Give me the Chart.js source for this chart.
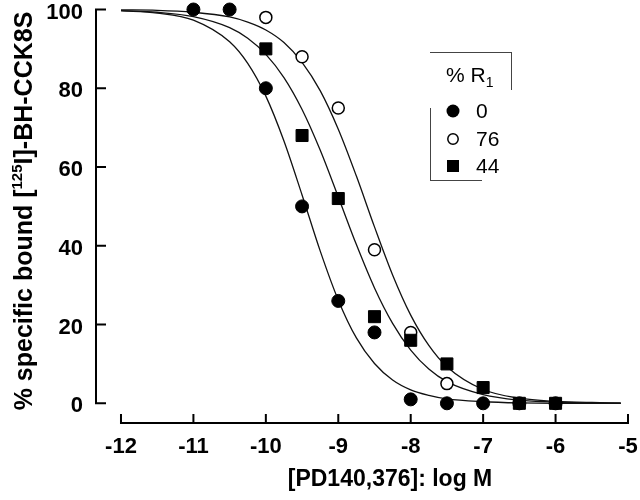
<!DOCTYPE html>
<html>
<head>
<meta charset="utf-8">
<script src="https://cdn.jsdelivr.net/npm/chart.js@4.4.0/dist/chart.umd.min.js"></script>
<style>
  html, body { margin: 0; padding: 0; background: #fff; }
  #caja { width: 640px; height: 500px; }
</style>
</head>
<body>
<div id="caja"><canvas id="grafico" width="640" height="500"></canvas></div>
<script>
/* Datos: log M vs % unido */
var dosis0 = [-11, -10.5, -10, -9.5, -9, -8.5, -8, -7.5, -7, -6.5, -6];
var unido0 = [100, 100, 80, 50, 26, 18, 1, 0, 0, 0, 0];
var dosis76 = [-10, -9.5, -9, -8.5, -8, -7.5];
var unido76 = [98, 88, 75, 39, 18, 5];
var dosis44 = [-10, -9.5, -9, -8.5, -8, -7.5, -7, -6.5, -6];
var unido44 = [90, 68, 52, 22, 16, 10, 4, 0, 0];

/* Curvas ajustadas (valores leídos sobre las líneas) */
var curvaX = [-12, -11.5, -11, -10.5, -10.25, -10, -9.75, -9.5, -9.25, -9, -8.75, -8.5, -8.25, -8, -7.75, -7.5, -7, -6.5, -6, -5.5, -5.1];
var curva0 = [99.7, 99.1, 97.3, 91.8, 86.3, 78.0, 66.6, 52.9, 38.7, 26.2, 16.6, 10.1, 5.9, 3.4, 2.0, 1.1, 0.4, 0.1, 0, 0, 0];
var curva44 = [99.7, 99.3, 98.2, 95.4, 92.7, 88.6, 82.7, 74.6, 64.3, 52.4, 40.3, 29.3, 20.3, 13.5, 8.7, 5.5, 2.2, 0.8, 0.3, 0.1, 0];
var curva76 = [99.9, 99.8, 99.3, 98.1, 96.8, 94.8, 91.6, 86.6, 79.4, 69.6, 57.7, 44.8, 32.6, 22.4, 14.7, 9.3, 3.5, 1.3, 0.5, 0.2, 0.1];

var ticksX = [-12, -11, -10, -9, -8, -7, -6, -5];
var ticksY = [0, 20, 40, 60, 80, 100];
var tituloX = '[PD140,376]: log M';
var tituloY = ['% specific bound [', '125', 'I]-BH-CCK8S'];
var leyendaTitulo = ['% R', '1'];
var leyendaEtiquetas = ['0', '76', '44'];

var fuente = '"Liberation Sans", Arial, Helvetica, sans-serif';

function pares(xs, ys) {
  return xs.map(function(x, i) { return { x: x, y: ys[i] }; });
}

function curva(ys) {
  return {
    data: pares(curvaX, ys),
    showLine: true,
    pointRadius: 0,
    borderColor: '#111',
    borderWidth: 1.3,
    cubicInterpolationMode: 'monotone',
    fill: false,
    clip: false,
    order: 10
  };
}

/* Ejes separados, marcas hacia dentro, títulos y leyenda a mano */
var ejes = {
  id: 'ejes',
  beforeDatasetsDraw: function(chart) {
    var ctx = chart.ctx;
    var sx = chart.scales.x;
    var sy = chart.scales.y;
    var izq = chart.chartArea.left;
    var abajo = chart.chartArea.bottom;
    ctx.save();
    ctx.strokeStyle = '#000';
    ctx.lineWidth = 2;
    ctx.lineCap = 'square';

    // eje Y
    ctx.beginPath();
    ctx.moveTo(izq, sy.getPixelForValue(0));
    ctx.lineTo(izq, sy.getPixelForValue(100));
    ticksY.forEach(function(v) {
      var py = sy.getPixelForValue(v);
      ctx.moveTo(izq, py);
      ctx.lineTo(izq + 9, py);
    });
    // eje X
    ctx.moveTo(sx.getPixelForValue(ticksX[0]), abajo);
    ctx.lineTo(sx.getPixelForValue(ticksX[ticksX.length - 1]), abajo);
    ticksX.forEach(function(v) {
      var px = sx.getPixelForValue(v);
      ctx.moveTo(px, abajo);
      ctx.lineTo(px, abajo - 8);
    });
    ctx.stroke();

    ctx.fillStyle = '#000';
    ctx.font = 'bold 22px ' + fuente;
    ctx.textAlign = 'right';
    ctx.textBaseline = 'middle';
    ticksY.forEach(function(v) {
      ctx.fillText(String(v), izq - 13, sy.getPixelForValue(v) + 3);
    });
    ctx.textAlign = 'center';
    ticksX.forEach(function(v) {
      ctx.fillText(String(v), sx.getPixelForValue(v), abajo + 24);
    });

    ctx.font = 'bold 23px ' + fuente;
    ctx.fillText(tituloX, 390, abajo + 57);

    // título Y con superíndice
    ctx.save();
    ctx.translate(32, 211);
    ctx.rotate(-Math.PI / 2);
    ctx.textAlign = 'left';
    ctx.textBaseline = 'alphabetic';
    var fGrande = 'bold 25px ' + fuente;
    var fChica = 'bold 15px ' + fuente;
    ctx.font = fGrande;
    var a = ctx.measureText(tituloY[0]).width;
    var c = ctx.measureText(tituloY[2]).width;
    ctx.font = fChica;
    var b = ctx.measureText(tituloY[1]).width;
    var total = a + b + c;
    var x0 = -total / 2;
    ctx.font = fGrande;
    ctx.fillText(tituloY[0], x0, 0);
    ctx.font = fChica;
    ctx.fillText(tituloY[1], x0 + a, -10);
    ctx.font = fGrande;
    ctx.fillText(tituloY[2], x0 + a + b, 0);
    ctx.restore();

    ctx.restore();
  },
  afterDraw: function(chart) {
    var ctx = chart.ctx;
    ctx.save();
    // marco de la leyenda (incompleto como en la figura)
    ctx.strokeStyle = '#444';
    ctx.lineWidth = 1;
    ctx.beginPath();
    ctx.moveTo(430, 52.5); ctx.lineTo(512, 52.5);
    ctx.moveTo(511.5, 52); ctx.lineTo(511.5, 90);
    ctx.moveTo(430.5, 108); ctx.lineTo(430.5, 180);
    ctx.moveTo(430, 180.5); ctx.lineTo(482, 180.5);
    ctx.stroke();

    ctx.fillStyle = '#000';
    ctx.font = '21px ' + fuente;
    ctx.textAlign = 'left';
    ctx.textBaseline = 'middle';
    ctx.fillText(leyendaTitulo[0], 446, 76);
    var w = ctx.measureText(leyendaTitulo[0]).width;
    ctx.font = '14px ' + fuente;
    ctx.fillText(leyendaTitulo[1], 446 + w, 83);

    var filas = [111, 139, 166];
    ctx.font = '21px ' + fuente;
    leyendaEtiquetas.forEach(function(t, i) {
      ctx.fillText(t, 476, filas[i] + 1);
    });
    // marcadores
    ctx.beginPath();
    ctx.arc(453, filas[0], 6.5, 0, Math.PI * 2);
    ctx.fill();
    ctx.beginPath();
    ctx.lineWidth = 1.5;
    ctx.strokeStyle = '#000';
    ctx.arc(453, filas[1], 5.2, 0, Math.PI * 2);
    ctx.stroke();
    ctx.fillRect(447, filas[2] - 6, 12, 12);
    ctx.restore();
  }
};

var grafico = new Chart(document.getElementById('grafico'), {
  type: 'scatter',
  data: {
    datasets: [
      {
        label: leyendaEtiquetas[0],
        data: pares(dosis0, unido0),
        pointStyle: 'circle',
        pointRadius: 6.5,
        backgroundColor: '#000',
        borderColor: '#000',
        borderWidth: 1,
        clip: false,
        order: 1
      },
      {
        label: leyendaEtiquetas[2],
        data: pares(dosis44, unido44),
        pointStyle: 'rect',
        pointRadius: 8.5,
        backgroundColor: '#000',
        borderColor: '#000',
        borderWidth: 1,
        clip: false,
        order: 2
      },
      {
        label: leyendaEtiquetas[1],
        data: pares(dosis76, unido76),
        pointStyle: 'circle',
        pointRadius: 6,
        backgroundColor: '#fff',
        borderColor: '#000',
        borderWidth: 1.5,
        clip: false,
        order: 3
      },
      curva(curva0),
      curva(curva44),
      curva(curva76)
    ]
  },
  options: {
    responsive: false,
    animation: false,
    devicePixelRatio: 1,
    layout: { padding: { left: 96, right: 12, top: 8, bottom: 77 } },
    scales: {
      x: { type: 'linear', min: -12.345, max: -5, display: false },
      y: { type: 'linear', min: -5, max: 100, display: false }
    },
    plugins: {
      legend: { display: false },
      tooltip: { enabled: false }
    }
  },
  plugins: [ejes]
});
</script>
</body>
</html>
